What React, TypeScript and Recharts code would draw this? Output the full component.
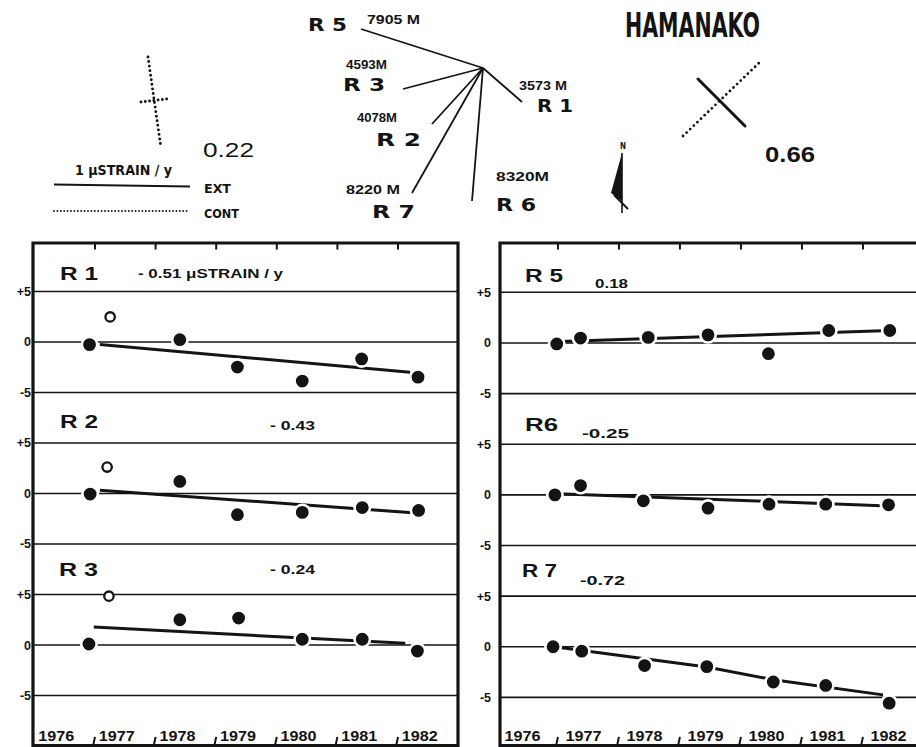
import React from 'react';
import {
  ComposedChart,
  Line,
  Scatter,
  XAxis,
  YAxis,
  CartesianGrid,
  ReferenceLine,
  ReferenceArea,
} from 'recharts';

// ---------- axis data ----------
const yearLabels = ['1976', '1977', '1978', '1979', '1980', '1981', '1982'];
const yearStarts = [1976, 1977, 1978, 1979, 1980, 1981, 1982];
const yearBoundaries = [1977, 1978, 1979, 1980, 1981, 1982];

// ---------- R1 ----------
const r1Years = [1976.91, 1978.4, 1979.35, 1980.42, 1981.4, 1982.33];
const r1Values = [-0.26, 0.23, -2.48, -3.87, -1.68, -3.48];
const r1OpenYears = [1977.25];
const r1OpenValues = [2.48];
const r1TrendYears = [1977.08, 1982.2];
const r1TrendValues = [-0.26, -3.0];

// ---------- R2 ----------
const r2Years = [1976.92, 1978.4, 1979.35, 1980.42, 1981.41, 1982.34];
const r2Values = [-0.06, 1.19, -2.1, -1.87, -1.39, -1.68];
const r2OpenYears = [1977.2];
const r2OpenValues = [2.62];
const r2TrendYears = [1977.08, 1982.3];
const r2TrendValues = [0.32, -1.93];

// ---------- R3 ----------
const r3Years = [1976.9, 1978.4, 1979.37, 1980.42, 1981.41, 1982.32];
const r3Values = [0.1, 2.5, 2.67, 0.57, 0.57, -0.6];
const r3OpenYears = [1977.23];
const r3OpenValues = [4.83];
const r3TrendYears = [1976.98, 1982.12];
const r3TrendValues = [1.77, 0.17];

// ---------- R5 ----------
const r5Years = [1976.98, 1977.37, 1978.48, 1979.46, 1980.45, 1981.44, 1982.44];
const r5Values = [-0.1, 0.48, 0.55, 0.8, -1.06, 1.23, 1.23];
const r5TrendYears = [1977.05, 1982.44];
const r5TrendValues = [0.15, 1.22];

// ---------- R6 ----------
const r6Years = [1976.95, 1977.37, 1978.4, 1979.46, 1980.46, 1981.39, 1982.42];
const r6Values = [0.0, 0.92, -0.59, -1.31, -0.92, -0.92, -0.98];
const r6TrendYears = [1977.0, 1982.42];
const r6TrendValues = [0.12, -1.1];

// ---------- R7 ----------
const r7Years = [1976.92, 1977.39, 1978.42, 1979.44, 1980.53, 1981.39, 1982.43];
const r7Values = [0.0, -0.44, -1.86, -1.96, -3.48, -3.82, -5.57];
const r7TrendYears = [1977.0, 1979.44, 1980.53, 1982.33];
const r7TrendValues = [-0.05, -2.0, -3.25, -4.75];

const INK = '#141414';
const SANS = '"Liberation Sans", Arial, Helvetica, sans-serif';
const NARROW = '"Liberation Sans Narrow", "DejaVu Sans Condensed", "Liberation Sans", sans-serif';
const HEAVY = '"DejaVu Sans", "Liberation Sans", sans-serif';

type Sub = {
  xs: number[];
  ys: number[];
  openXs?: number[];
  openYs?: number[];
  trendXs: number[];
  trendYs: number[];
  offset: number;
};

const toPts = (xs: number[], ys: number[], off: number) =>
  xs.map((x, i) => ({ x, y: ys[i] + off }));

const FilledDot = (props: any) => {
  const { cx, cy } = props;
  if (cx == null || cy == null) return null;
  return <circle cx={cx} cy={cy} r={7.7} fill={INK} stroke="#fff" strokeWidth={2.6} />;
};

const OpenDot = (props: any) => {
  const { cx, cy } = props;
  if (cx == null || cy == null) return null;
  return <circle cx={cx} cy={cy} r={4.7} fill="#fff" stroke={INK} strokeWidth={2.3} />;
};

const yTickLabel = (v: number) => {
  const m = (((Math.round(v) % 15) + 15) % 15);
  return m === 5 ? '+5' : m === 0 ? '0' : '-5';
};

const YTick = (props: any) => {
  const { x, y, payload } = props;
  return (
    <text
      x={x}
      y={y}
      dy={4.5}
      textAnchor="end"
      fontSize={12.5}
      fontWeight="bold"
      fontFamily={SANS}
      fill={INK}
    >
      {yTickLabel(payload.value)}
    </text>
  );
};

type PanelProps = {
  left: number;
  width: number;
  yAxisWidth: number;
  tickMargin: number;
  xDomain: [number, number];
  yDomain: [number, number];
  labelShift: number;
  subs: Sub[];
};

function Panel({ left, width, yAxisWidth, tickMargin, xDomain, yDomain, labelShift, subs }: PanelProps) {
  const yTicks: number[] = [];
  subs.forEach((s) => {
    yTicks.push(s.offset + 5, s.offset, s.offset - 5);
  });
  const labelTicks = yearStarts.map((y) => y + labelShift);
  const [yMin, yMax] = yDomain;
  const YearTick = (props: any) => {
    const { x, y, payload } = props;
    const idx = yearStarts.indexOf(Math.round(payload.value - labelShift));
    return (
      <text
        x={x}
        y={y}
        textAnchor="middle"
        fontSize={14}
        fontWeight="bold"
        fontFamily={SANS}
        fill={INK}
        textLength={36}
        lengthAdjust="spacingAndGlyphs"
      >
        {yearLabels[idx] ?? ''}
      </text>
    );
  };
  return (
    <div style={{ position: 'absolute', left, top: 240 }}>
      <ComposedChart
        width={width}
        height={507}
        margin={{ top: 3, right: 2, bottom: 1.5, left: 0 }}
      >
        <CartesianGrid horizontal vertical={false} stroke={INK} strokeWidth={1.6} />
        <XAxis
          type="number"
          dataKey="x"
          domain={xDomain}
          allowDataOverflow
          ticks={labelTicks}
          interval={0}
          mirror
          axisLine={false}
          tickLine={false}
          tickSize={0}
          tickMargin={5}
          height={20}
          tick={YearTick}
        />
        <YAxis
          type="number"
          dataKey="y"
          domain={yDomain}
          allowDataOverflow
          ticks={yTicks}
          interval={0}
          width={yAxisWidth}
          axisLine={false}
          tickLine={false}
          tickSize={0}
          tickMargin={tickMargin}
          tick={YTick}
        />
        <ReferenceArea
          x1={xDomain[0]}
          x2={xDomain[1]}
          y1={yMin}
          y2={yMax}
          fill="none"
          fillOpacity={0}
          stroke={INK}
          strokeWidth={3.2}
          ifOverflow="visible"
        />
        {yearBoundaries.map((b) => (
          <ReferenceLine
            key={'t' + b}
            segment={[
              { x: b, y: yMax },
              { x: b, y: yMax - 0.65 },
            ]}
            stroke={INK}
            strokeWidth={2}
            ifOverflow="visible"
          />
        ))}
        {yearBoundaries.map((b) => (
          <ReferenceLine
            key={'b' + b}
            segment={[
              { x: b - 0.03, y: yMin },
              { x: b, y: yMin + 0.85 },
            ]}
            stroke={INK}
            strokeWidth={2}
            ifOverflow="visible"
          />
        ))}
        {subs.map((s, i) => (
          <Line
            key={'trend' + i}
            data={toPts(s.trendXs, s.trendYs, s.offset)}
            dataKey="y"
            type="linear"
            stroke={INK}
            strokeWidth={3}
            dot={false}
            activeDot={false}
            isAnimationActive={false}
          />
        ))}
        {subs.map((s, i) => (
          <Scatter
            key={'pts' + i}
            data={toPts(s.xs, s.ys, s.offset)}
            shape={FilledDot}
            isAnimationActive={false}
          />
        ))}
        {subs
          .filter((s) => s.openXs && s.openXs.length)
          .map((s, i) => (
            <Scatter
              key={'open' + i}
              data={toPts(s.openXs as number[], s.openYs as number[], s.offset)}
              shape={OpenDot}
              isAnimationActive={false}
            />
          ))}
      </ComposedChart>
    </div>
  );
}

const leftSubs: Sub[] = [
  { xs: r1Years, ys: r1Values, openXs: r1OpenYears, openYs: r1OpenValues, trendXs: r1TrendYears, trendYs: r1TrendValues, offset: 30 },
  { xs: r2Years, ys: r2Values, openXs: r2OpenYears, openYs: r2OpenValues, trendXs: r2TrendYears, trendYs: r2TrendValues, offset: 15 },
  { xs: r3Years, ys: r3Values, openXs: r3OpenYears, openYs: r3OpenValues, trendXs: r3TrendYears, trendYs: r3TrendValues, offset: 0 },
];

const rightSubs: Sub[] = [
  { xs: r5Years, ys: r5Values, trendXs: r5TrendYears, trendYs: r5TrendValues, offset: 30 },
  { xs: r6Years, ys: r6Values, trendXs: r6TrendYears, trendYs: r6TrendValues, offset: 15 },
  { xs: r7Years, ys: r7Values, trendXs: r7TrendYears, trendYs: r7TrendValues, offset: 0 },
];

const T = ({
  x, y, s, size, len, weight = 'bold', family = SANS,
}: { x: number; y: number; s: string; size: number; len?: number; weight?: string; family?: string }) => (
  <text
    x={x}
    y={y}
    fontSize={size}
    fontWeight={weight}
    fontFamily={family}
    fill={INK}
    textLength={len}
    lengthAdjust={len ? 'spacingAndGlyphs' : undefined}
  >
    {s}
  </text>
);

function Header() {
  const fanCenter = { x: 483, y: 68 };
  const fanEnds = [
    [361, 29],
    [403, 89],
    [432, 124],
    [412, 193],
    [472, 201],
    [522, 102],
  ];
  return (
    <svg
      width={916}
      height={747}
      style={{ position: 'absolute', left: 0, top: 0, pointerEvents: 'none' }}
    >
      {/* left strain cross */}
      <line x1={148} y1={57} x2={161} y2={148} stroke={INK} strokeWidth={2.9} strokeDasharray="0 4.6" strokeLinecap="round" />
      <line x1={141} y1={102} x2={167} y2={99} stroke={INK} strokeWidth={2.9} strokeDasharray="0 4.3" strokeLinecap="round" />
      <T x={203} y={157} s="0.22" size={21} len={51} weight="normal" />
      <T x={75} y={175} s="1 μSTRAIN / y" size={14} len={97} family={NARROW} />
      <line x1={54} y1={184.5} x2={190} y2={186.5} stroke={INK} strokeWidth={2} />
      <T x={204} y={193} s="EXT" size={13} len={27} family={NARROW} />
      <line x1={54} y1={211} x2={190} y2={211} stroke={INK} strokeWidth={1.9} strokeDasharray="0 3.4" strokeLinecap="round" />
      <T x={204} y={218} s="CONT" size={13} len={35} family={NARROW} />

      {/* baseline fan */}
      {fanEnds.map(([x, y], i) => (
        <line key={i} x1={fanCenter.x} y1={fanCenter.y} x2={x} y2={y} stroke={INK} strokeWidth={1.8} />
      ))}
      <T x={308} y={31} s="R 5" size={18} len={39} family={HEAVY} />
      <T x={367} y={24} s="7905 M" size={12.5} len={53} />
      <T x={346} y={69} s="4593M" size={12.5} len={41} />
      <T x={343} y={91} s="R 3" size={18} len={42} family={HEAVY} />
      <T x={357} y={122} s="4078M" size={12.5} len={40} />
      <T x={376} y={146} s="R 2" size={18} len={45} family={HEAVY} />
      <T x={346} y={194} s="8220 M" size={12.5} len={54} />
      <T x={372} y={218} s="R 7" size={18} len={43} family={HEAVY} />
      <T x={519} y={90} s="3573 M" size={12.5} len={48} />
      <T x={537} y={112} s="R 1" size={18} len={36} family={HEAVY} />
      <T x={496} y={181} s="8320M" size={12.5} len={53} />
      <T x={496} y={211} s="R 6" size={18} len={40} family={HEAVY} />

      {/* north arrow */}
      <T x={620} y={149} s="N" size={9} len={6} family={NARROW} />
      <polygon points="622,153 611,193 622,201" fill={INK} />
      <line x1={622} y1={153} x2={622} y2={213} stroke={INK} strokeWidth={1.6} />
      <line x1={614} y1={195} x2={628} y2={209} stroke={INK} strokeWidth={2} />

      {/* title */}
      <T x={625} y={37} s="HAMANAKO" size={33} len={135} family={NARROW} weight="bold" />

      {/* right strain cross */}
      <line x1={698} y1={79} x2={745} y2={126} stroke={INK} strokeWidth={3} strokeLinecap="round" />
      <line x1={683} y1={136} x2={759} y2={63} stroke={INK} strokeWidth={2.8} strokeDasharray="0 5" strokeLinecap="round" />
      <T x={765} y={162} s="0.66" size={22} len={50} />

      {/* panel annotations - left */}
      <T x={60} y={280} s="R 1" size={18} len={38} />
      <T x={138} y={278} s="- 0.51 μSTRAIN / y" size={12} len={145} />
      <T x={60} y={428} s="R 2" size={18} len={38} />
      <T x={270} y={430} s="- 0.43" size={12} len={45} />
      <T x={59} y={576} s="R 3" size={18} len={39} />
      <T x={270} y={574} s="- 0.24" size={12} len={45} />

      {/* panel annotations - right */}
      <T x={525} y={282} s="R 5" size={18} len={38} />
      <T x={595} y={288} s="0.18" size={12} len={33} />
      <T x={525} y={431} s="R6" size={18} len={33} />
      <T x={582} y={438} s="-0.25" size={12} len={47} />
      <T x={522} y={577} s="R 7" size={18} len={35} />
      <T x={580} y={585} s="-0.72" size={12} len={45} />
    </svg>
  );
}

export default function App() {
  return (
    <div
      style={{
        position: 'absolute',
        left: 0,
        top: 0,
        width: 916,
        height: 747,
        overflow: 'hidden',
        background: '#fff',
        fontFamily: SANS,
      }}
    >
      <Panel
        left={0}
        width={460}
        yAxisWidth={33}
        tickMargin={2}
        xDomain={[1975.977, 1982.99]}
        yDomain={[-9.95, 39.8]}
        labelShift={0.36}
        subs={leftSubs}
      />
      <Panel
        left={460}
        width={469}
        yAxisWidth={40}
        tickMargin={9}
        xDomain={[1976.05, 1983.05]}
        yDomain={[-9.75, 39.87]}
        labelShift={0.42}
        subs={rightSubs}
      />
      <Header />
    </div>
  );
}
